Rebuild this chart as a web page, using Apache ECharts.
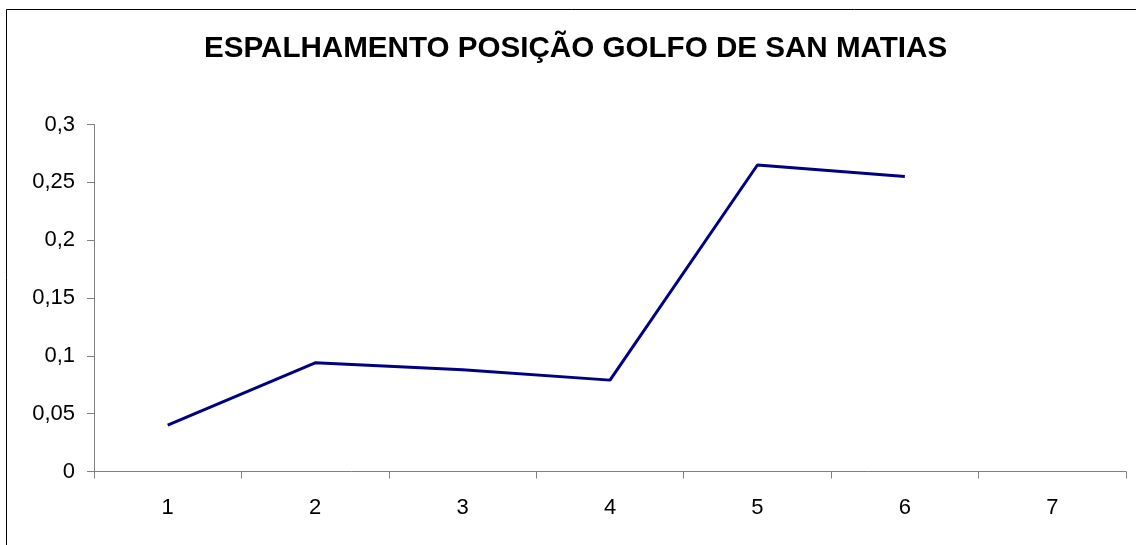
<!DOCTYPE html>
<html>
<head>
<meta charset="UTF-8">
<title>Espalhamento posição Golfo de San Matias</title>
<script src="https://cdn.jsdelivr.net/npm/echarts@6/dist/echarts.min.js"></script>
<style>
  html, body { margin: 0; padding: 0; background: #fff; }
  #chart { width: 1136px; height: 545px; }
</style>
</head>
<body>
<div id="chart"></div>
<script>
var titleText = 'ESPALHAMENTO POSIÇÃO GOLFO DE SAN MATIAS';
var categories = ['1', '2', '3', '4', '5', '6', '7'];
var values = [0.040, 0.094, 0.088, 0.079, 0.265, 0.255, null];
var yTicks = { min: 0, max: 0.3, interval: 0.05 };

var chart = echarts.init(document.getElementById('chart'));
var option = {
    backgroundColor: '#fff',
    animation: false,
    title: {
        text: titleText,
        left: 204,
        top: 34,
        padding: 0,
        textStyle: {
            fontFamily: 'Liberation Sans, Arial, sans-serif',
            fontSize: 29.6,
            fontWeight: 'bold',
            color: '#000'
        }
    },
    // frame of the chart area (only left and top edges are visible)
    graphic: [{
        type: 'rect',
        shape: { x: 6.5, y: 9.5, width: 1200, height: 600 },
        style: { fill: null, stroke: '#000', lineWidth: 1 },
        silent: true
    }],
    grid: { left: 94, right: 10, top: 124.5, bottom: 73.5 },
    xAxis: {
        type: 'category',
        data: categories,
        boundaryGap: true,
        axisLine: { lineStyle: { color: '#808080', width: 1 } },
        axisTick: { show: true, length: 7, lineStyle: { color: '#808080' } },
        axisLabel: {
            margin: 25,
            color: '#000',
            fontFamily: 'Liberation Sans, Arial, sans-serif',
            fontSize: 22
        },
        splitLine: { show: false }
    },
    yAxis: {
        type: 'value',
        min: yTicks.min,
        max: yTicks.max,
        interval: yTicks.interval,
        axisLine: { show: true, lineStyle: { color: '#808080', width: 1 } },
        axisTick: { show: true, length: 7, lineStyle: { color: '#808080' } },
        axisLabel: {
            margin: 19,
            color: '#000',
            fontFamily: 'Liberation Sans, Arial, sans-serif',
            fontSize: 22,
            formatter: function (v) {
                return String(+v.toFixed(2)).replace('.', ',');
            }
        },
        splitLine: { show: false }
    },
    series: [{
        type: 'line',
        data: values,
        symbol: 'none',
        connectNulls: false,
        lineStyle: { color: '#000080', width: 3 },
        itemStyle: { color: '#000080' }
    }]
};
chart.setOption(option);
</script>
</body>
</html>
